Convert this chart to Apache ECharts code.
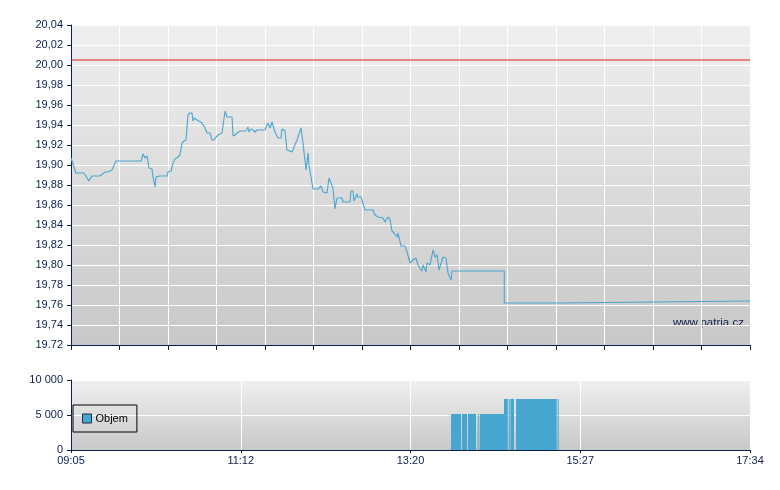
<!DOCTYPE html>
<html>
<head>
<meta charset="utf-8">
<script src="https://cdn.jsdelivr.net/npm/echarts@6/dist/echarts.min.js"></script>
<style>
html,body{margin:0;padding:0;background:#fff;}
#chart{width:780px;height:490px;}
</style>
</head>
<body>
<div id="chart"></div>
<script>
// Session start 09:05, end 17:34 (minutes after open)
const sessionStart = 9 * 60 + 5;
const sessionLength = 509;
const prevClose = 20.005;

// Price line: minutes after 09:05 and price
const priceMinutes = [
  0, 1.3, 3.7, 9.7, 13.5, 15.5, 21.7, 25.5, 27.7, 30.7, 31.5, 33.7, 52.5, 54, 55.5, 57, 57.7, 58.5,
  60.7, 61.5, 63, 63.7, 66.7, 72, 72.7, 75, 76.5, 78, 80.2, 81.7, 83.2, 84.7, 86.2, 87.7, 89.2, 90.7,
  91.5, 92.2, 94.5, 98.2, 100.5, 102, 104.2, 105.7, 107.2, 108.7, 110.2, 113.2, 114, 115.5, 117, 120.7,
  121.5, 123, 125.4, 126.9, 131.2, 132.7, 133.4, 134.9, 136.4, 137.9, 139.4, 141.7, 145.4, 147.7, 149.2,
  150.7, 152.9, 155.2, 157.4, 158.2, 160.4, 161.9, 165.7, 166.4, 169.4, 172.4, 173.9, 176.2, 177.7, 178.4,
  179.9, 181.4, 185.2, 187.4, 188.9, 191.9, 193.4, 196.4, 197.9, 199.4, 203.1, 203.9, 209.1, 209.9, 211.4,
  212.1, 214.4, 215.1, 217.4, 220.4, 226.4, 227.9, 230.1, 233.9, 235.4, 237.6, 239.1, 240.6, 242.1, 244.4,
  245.1, 247.4, 250.4, 251.9, 254.1, 256.4, 258.6, 260.1, 263.1, 263.9, 266.1, 266.9, 269.1, 271.4, 272.9,
  274.4, 275.9, 278.9, 281.1, 282.6, 284.9, 285.6, 324.8, 324.8, 365.3, 365.3, 509
];
const prices = [
  19.907, 19.907, 19.892, 19.892, 19.884, 19.889, 19.889, 19.893, 19.893, 19.895, 19.896, 19.904, 19.904, 19.911, 19.907, 19.909, 19.908, 19.897,
  19.896, 19.888, 19.878, 19.888, 19.889, 19.889, 19.893, 19.894, 19.902, 19.906, 19.908, 19.910, 19.922, 19.924, 19.925, 19.950, 19.952, 19.952,
  19.944, 19.947, 19.945, 19.942, 19.937, 19.932, 19.932, 19.925, 19.925, 19.928, 19.930, 19.932, 19.932, 19.954, 19.948, 19.948,
  19.929, 19.930, 19.933, 19.934, 19.934, 19.938, 19.933, 19.936, 19.935, 19.933, 19.935, 19.935, 19.935, 19.942, 19.937,
  19.943, 19.933, 19.927, 19.927, 19.936, 19.934, 19.915, 19.913, 19.911, 19.925, 19.937, 19.922, 19.895, 19.912, 19.900,
  19.888, 19.876, 19.876, 19.879, 19.873, 19.872, 19.887, 19.877, 19.856, 19.867, 19.867, 19.863, 19.863, 19.874, 19.874,
  19.864, 19.871, 19.868, 19.868, 19.855, 19.855, 19.850, 19.848, 19.847, 19.843, 19.848, 19.846, 19.834, 19.832, 19.828,
  19.832, 19.819, 19.819, 19.813, 19.802, 19.805, 19.807, 19.800, 19.794, 19.800, 19.793, 19.802, 19.800, 19.815, 19.808,
  19.810, 19.795, 19.808, 19.807, 19.792, 19.785, 19.794, 19.794, 19.762, 19.762, 19.764, 19.764
];

// Volume blocks: start minute, end minute, volume
const volStart = [284.9, 293.1, 297.6, 304.9, 306.4, 324.6, 328.1, 329.4, 333.6, 364.8];
const volEnd   = [292.4, 296.9, 303.6, 305.6, 324.6, 327.4, 328.9, 332.1, 364.1, 365.6];
const volValue = [5150, 5150, 5150, 5150, 5150, 7300, 7300, 7300, 7300, 7300];

// Axis settings
const priceMin = 19.72, priceMax = 20.04, priceStep = 0.02;
const volMin = 0, volMax = 10000, volStep = 5000;

const navy = '#0c1e4c';
const font = 'Liberation Sans, Arial, sans-serif';

function fmtTime(m) {
  const t = sessionStart + Math.round(m);
  const h = Math.floor(t / 60), mm = t % 60;
  return String(h).padStart(2, '0') + ':' + String(mm).padStart(2, '0');
}
function fmtPrice(v) {
  const s = v.toFixed(2);
  return Math.abs(v - priceMin) < 1e-6 ? s : s.replace('.', ',');
}
function fmtVol(v) {
  return String(Math.round(v)).replace(/\B(?=(\d{3})+(?!\d))/g, ' ');
}

const priceData = priceMinutes.map((m, i) => [m, prices[i]]);
const refData = [[0, prevClose], [sessionLength, prevClose]];
const volData = volStart.map((s, i) => [s, volEnd[i], volValue[i]]);

const bgGrad = (top, bottom) => ({
  type: 'linear', x: 0, y: 0, x2: 0, y2: 1,
  colorStops: [{ offset: 0, color: top }, { offset: 1, color: bottom }]
});

const chart = echarts.init(document.getElementById('chart'));
chart.setOption({
  animation: false,
  backgroundColor: '#ffffff',
  textStyle: { fontFamily: font },
  grid: [
    { left: 71, top: 25, width: 679, height: 320, show: true, borderWidth: 0, backgroundColor: bgGrad('#efefef', '#c8c8c8') },
    { left: 71, top: 380, width: 679, height: 70, show: true, borderWidth: 0, backgroundColor: bgGrad('#f0f0f0', '#c8c8c8') }
  ],
  xAxis: [
    {
      type: 'value', gridIndex: 0, min: 0, max: sessionLength, interval: sessionLength / 14,
      axisLine: { show: true, onZero: false, lineStyle: { color: navy, width: 1 } },
      axisTick: { show: true, length: 5, lineStyle: { color: navy } },
      axisLabel: { show: false },
      splitLine: { show: true, lineStyle: { color: '#ffffff', width: 1 } }
    },
    {
      type: 'value', gridIndex: 1, min: 0, max: sessionLength, interval: sessionLength / 4,
      axisLine: { show: true, onZero: false, lineStyle: { color: navy, width: 1 } },
      axisTick: { show: true, length: 3, lineStyle: { color: navy } },
      axisLabel: { show: true, color: navy, fontSize: 11, margin: 5, formatter: fmtTime, fontFamily: font },
      splitLine: { show: true, lineStyle: { color: '#ffffff', width: 1 } }
    }
  ],
  yAxis: [
    {
      type: 'value', gridIndex: 0, min: priceMin, max: priceMax, interval: priceStep,
      axisLine: { show: true, onZero: false, lineStyle: { color: navy, width: 1 } },
      axisTick: { show: true, length: 4, lineStyle: { color: navy } },
      axisLabel: { color: navy, fontSize: 11, margin: 8, formatter: fmtPrice, fontFamily: font },
      splitLine: { show: true, lineStyle: { color: '#ffffff', width: 1 } }
    },
    {
      type: 'value', gridIndex: 1, min: volMin, max: volMax, interval: volStep,
      axisLine: { show: true, onZero: false, lineStyle: { color: navy, width: 1 } },
      axisTick: { show: true, length: 4, lineStyle: { color: navy } },
      axisLabel: { color: navy, fontSize: 11, margin: 8, formatter: fmtVol, fontFamily: font },
      splitLine: { show: true, lineStyle: { color: '#ffffff', width: 1 } }
    }
  ],
  legend: {
    left: 73, top: 405,
    orient: 'vertical',
    data: [{ name: 'Objem', icon: 'rect', itemStyle: { color: '#46a6cf', borderColor: '#1b2b4b', borderWidth: 1 } }],
    itemWidth: 9, itemHeight: 9, itemGap: 4,
    padding: [8, 9, 8, 9],
    borderColor: '#000000', borderWidth: 1, borderRadius: 0,
    backgroundColor: 'rgba(0,0,0,0)',
    textStyle: { color: '#000000', fontSize: 11, fontFamily: font, padding: [0, 0, 0, -1] },
    selectedMode: false
  },
  graphic: [{
    type: 'text', left: 673, top: 317, silent: true,
    style: { text: 'www.patria.cz', fill: navy, fontSize: 11.5, fontFamily: font }
  }],
  series: [
    {
      name: 'Předchozí závěr', type: 'line', xAxisIndex: 0, yAxisIndex: 0,
      data: refData, showSymbol: false, symbol: 'none', silent: true,
      lineStyle: { color: '#dc1c1c', width: 1 }
    },
    {
      name: 'Cena', type: 'line', xAxisIndex: 0, yAxisIndex: 0,
      data: priceData, showSymbol: false, symbol: 'none',
      lineStyle: { color: '#4aa5d1', width: 1.1 }
    },
    {
      name: 'Objem', type: 'custom', xAxisIndex: 1, yAxisIndex: 1,
      itemStyle: { color: '#46a6cf' },
      encode: { x: [0, 1], y: 2 },
      data: volData,
      renderItem: function (params, api) {
        const p1 = api.coord([api.value(0), api.value(2)]);
        const p2 = api.coord([api.value(1), 0]);
        return {
          type: 'rect',
          shape: { x: p1[0], y: p1[1], width: p2[0] - p1[0], height: p2[1] - p1[1] },
          style: { fill: '#46a6cf' }
        };
      }
    }
  ]
});
</script>
</body>
</html>
